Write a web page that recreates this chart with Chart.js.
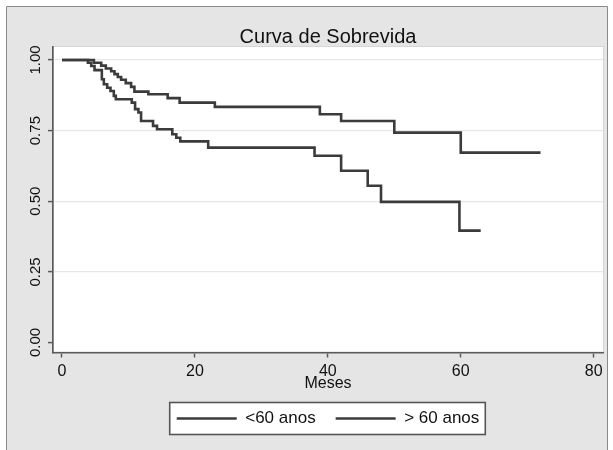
<!DOCTYPE html>
<html>
<head>
<meta charset="utf-8">
<script src="https://cdn.jsdelivr.net/npm/chart.js@4"></script>
<style>
  html, body { margin: 0; padding: 0; background: #ffffff; }
  #wrap { width: 613px; height: 450px; position: relative; }
</style>
</head>
<body>
<div id="wrap"><canvas id="c" width="613" height="450"></canvas></div>
<script>
// ---- data ----
const chartTitle = "Curva de Sobrevida";
const xTitle = "Meses";
const seriesNames = ["<60 anos", "> 60 anos"];
const xTicks = [0, 20, 40, 60, 80];
const yTicks = [0, 0.25, 0.5, 0.75, 1.0];

const monthsLt60 = [0, 4.8, 5.9, 6.6, 7.4, 7.9, 8.4, 8.9, 9.6, 10.4, 10.9, 13.0, 15.9, 17.7, 23.0, 38.8, 42.0, 50.0, 60.0, 72.0];
const survLt60   = [1.0, 0.99, 0.98, 0.97, 0.96, 0.95, 0.94, 0.93, 0.918, 0.905, 0.888, 0.879, 0.865, 0.849, 0.834, 0.808, 0.784, 0.743, 0.672, 0.672];

const monthsGe60 = [0, 3.9, 4.4, 4.9, 6.0, 6.3, 6.8, 7.3, 7.8, 8.1, 10.5, 11.0, 11.5, 11.9, 13.7, 14.3, 16.6, 17.2, 17.8, 22.0, 38.0, 42.0, 46.0, 48.0, 59.8, 63.0];
const survGe60   = [1.0, 0.99, 0.979, 0.964, 0.932, 0.914, 0.902, 0.89, 0.873, 0.861, 0.849, 0.826, 0.814, 0.784, 0.767, 0.755, 0.737, 0.725, 0.712, 0.69, 0.661, 0.608, 0.555, 0.498, 0.396, 0.396];

// ---- styles ----
const FONT = "'Liberation Sans', Arial, Helvetica, sans-serif";
const LINE_COLOR = "#3b3b3b";
const AXIS_COLOR = "#5a5a5a";
const BG = "#e5e5e5";

const toPts = (xs, ys) => xs.map((x, i) => ({ x: x, y: ys[i] }));

const bgPlugin = {
  id: 'stataBg',
  beforeDraw(chart) {
    const ctx = chart.ctx;
    const W = chart.width, H = chart.height;
    ctx.save();
    ctx.fillStyle = '#ffffff';
    ctx.fillRect(0, 0, W, H);
    ctx.fillStyle = BG;
    ctx.fillRect(6, 6, W - 11, H);
    ctx.strokeStyle = '#8a8a8a';
    ctx.lineWidth = 1;
    ctx.beginPath();
    ctx.moveTo(6.5, H); ctx.lineTo(6.5, 6.5); ctx.lineTo(W - 5.5, 6.5); ctx.lineTo(W - 5.5, H);
    ctx.stroke();
    const a = chart.chartArea;
    ctx.fillStyle = '#ffffff';
    ctx.fillRect(a.left, a.top, a.right - a.left, a.bottom - a.top);
    ctx.strokeStyle = '#d6d6d6';
    ctx.strokeRect(a.left + 0.5, a.top - 0.5, a.right - a.left, a.bottom - a.top);
    // legend frame
    const lg = chart.legend;
    if (lg && lg.legendHitBoxes && lg.legendHitBoxes.length) {
      const hb = lg.legendHitBoxes;
      let l = Infinity, r = -Infinity, t = Infinity, b = -Infinity;
      hb.forEach(h => { l = Math.min(l, h.left); r = Math.max(r, h.left + h.width); t = Math.min(t, h.top); b = Math.max(b, h.top + h.height); });
      const cy = (t + b) / 2;
      ctx.fillStyle = '#ffffff';
      ctx.fillRect(l - 7, cy - 16, (r - l) + 13, 32);
      ctx.strokeStyle = '#555555';
      ctx.lineWidth = 1.6;
      ctx.strokeRect(l - 7, cy - 16, (r - l) + 13, 32);
    }
    ctx.restore();
  }
};

new Chart(document.getElementById('c'), {
  type: 'line',
  data: {
    datasets: [
      { label: seriesNames[0], data: toPts(monthsLt60, survLt60), borderColor: LINE_COLOR, backgroundColor: LINE_COLOR, borderWidth: 2.6, pointRadius: 0, stepped: 'before', fill: false },
      { label: seriesNames[1], data: toPts(monthsGe60, survGe60), borderColor: LINE_COLOR, backgroundColor: LINE_COLOR, borderWidth: 2.6, pointRadius: 0, stepped: 'before', fill: false }
    ]
  },
  options: {
    responsive: false,
    animation: false,
    devicePixelRatio: 1,
    layout: { padding: { left: 8, right: 10, top: 10, bottom: 13 } },
    plugins: {
      title: {
        display: true, text: chartTitle, color: '#111111', fullSize: false,
        font: { family: FONT, size: 20, weight: 'normal', lineHeight: 1.0 },
        padding: { top: 17, bottom: 0 }
      },
      legend: {
        display: true, position: 'bottom', fullSize: false,
        labels: {
          usePointStyle: true, pointStyle: 'line', pointStyleWidth: 60,
          color: '#111111', padding: 20,
          font: { family: FONT, size: 17 }
        }
      },
      tooltip: { enabled: false }
    },
    scales: {
      x: {
        type: 'linear', min: -1.35, max: 81.4,
        afterBuildTicks: (s) => { s.ticks = xTicks.map(v => ({ value: v })); },
        afterFit: (s) => { s.height = 37.5; },
        ticks: { color: '#111111', font: { family: FONT, size: 16 }, padding: 4, maxRotation: 0, callback: (v) => String(v) },
        grid: { drawOnChartArea: false, tickLength: 5, tickColor: AXIS_COLOR, tickWidth: 1.5 },
        border: { display: true, color: AXIS_COLOR, width: 1.6 },
        title: { display: true, text: xTitle, color: '#111111', font: { family: FONT, size: 16, lineHeight: 0.8 }, padding: { top: 0, bottom: 0 } }
      },
      y: {
        type: 'linear', min: -0.0353, max: 1.046,
        afterBuildTicks: (s) => { s.ticks = yTicks.map(v => ({ value: v })); },
        afterFit: (s) => { s.width = 45; },
        ticks: { color: '#111111', font: { family: FONT, size: 15 }, minRotation: 90, maxRotation: 90, crossAlign: 'center', padding: -2, callback: (v) => Number(v).toFixed(2) },
        grid: {
          drawOnChartArea: true, tickLength: 5, tickColor: AXIS_COLOR, tickWidth: 1.5,
          color: (c) => (c.tick && c.tick.value === 0) ? 'rgba(0,0,0,0)' : '#e6e6e6',
          lineWidth: 1.2
        },
        border: { display: true, color: AXIS_COLOR, width: 1.6 }
      }
    }
  },
  plugins: [bgPlugin]
});
</script>
</body>
</html>
